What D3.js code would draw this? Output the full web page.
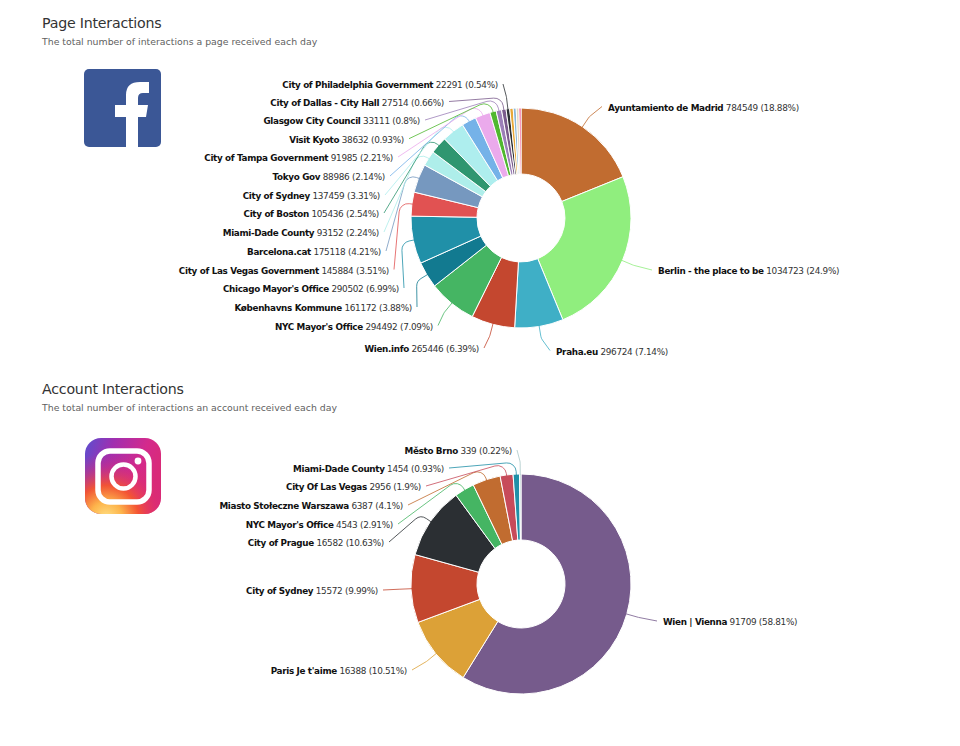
<!DOCTYPE html>
<html><head><meta charset="utf-8">
<script src="https://cdn.jsdelivr.net/npm/d3@7"></script>
<style>
html,body{margin:0;padding:0;background:#fff}
svg{display:block}
text{font-family:"DejaVu Sans",sans-serif}
.lbl{font-size:8.9px;fill:#333;letter-spacing:-0.3px}
.lbl .n{font-weight:bold;fill:#111;font-size:8.8px;letter-spacing:-0.33px}
.title{font-size:14.2px;fill:#333;letter-spacing:-0.22px}
.sub{font-size:9.35px;fill:#5f5f5f}
</style></head><body>
<svg id="c" width="960" height="746"></svg>
<script>
// ---- Page Interactions data
const pageNames = ["Ayuntamiento de Madrid","Berlin - the place to be","Praha.eu","Wien.info","NYC Mayor's Office","Københavns Kommune","Chicago Mayor's Office","City of Las Vegas Government","Barcelona.cat","Miami-Dade County","City of Boston","City of Sydney","Tokyo Gov","City of Tampa Government","Visit Kyoto","Glasgow City Council","City of Dallas - City Hall","City of Philadelphia Government","","","",""];
const pageValues = [784549,1034723,296724,265446,294492,161172,290502,145884,175118,93152,105436,137459,88986,91985,38632,33111,27514,22291,21000,18000,17000,12000];
const pagePercents = ["18.88","24.9","7.14","6.39","7.09","3.88","6.99","3.51","4.21","2.24","2.54","3.31","2.14","2.21","0.93","0.8","0.66","0.54","","","",""];
const pageColors = ["#c16c30","#90ee7e","#3fafc6","#c4472f","#45b563","#127a90","#2090a8","#e15252","#7698bf","#aeeeea","#2f9670","#aeeeee","#75b2e8","#ebaaec","#50b82f","#9c80b8","#7a5b8c","#2b2f33","#e8a838","#8ab8d8","#e8d8c0","#f0307a"];
// ---- Account Interactions data
const acctNames = ["Wien | Vienna","Paris Je t'aime","City of Sydney","City of Prague","NYC Mayor's Office","Miasto Stołeczne Warszawa","City Of Las Vegas","Miami-Dade County","Město Brno"];
const acctValues = [91709,16388,15572,16582,4543,6387,2956,1454,339];
const acctPercents = ["58.81","10.51","9.99","10.63","2.91","4.1","1.9","0.93","0.22"];
const acctColors = ["#765b8c","#dca137","#c4472f","#2b2f33","#45b563","#c16c30","#c74b5a","#2090a8","#aac8c8"];

// ---- Label layout (inner text edge of each label), separate from the data
const pageLabelX = [608,658,556,479,433,412,399,389,381,379,379,380,385,393,404,420,444,498];
const pageLabelY = [107.5,271,351.5,349,326.5,308,289,270.5,252,233,214,196,177,158,139.7,121,102.5,85];
const acctLabelX = [663,407,378,384,393,403,421,444,512];
const acctLabelY = [622,671,591,543,525,506,487,469,451];

const svg = d3.select("#c");

function heading(title, sub, yT, yS){
  svg.append("text").attr("class","title").attr("x",42).attr("y",yT).text(title);
  svg.append("text").attr("class","sub").attr("x",42).attr("y",yS).text(sub);
}
heading("Page Interactions","The total number of interactions a page received each day",28,45);
heading("Account Interactions","The total number of interactions an account received each day",394,411);

function donut(cx, cy, names, values, percents, colors, lx, ly){
  const R = 110, r = 44;
  const g = svg.append("g").attr("transform",`translate(${cx},${cy})`);
  const arcs = d3.pie().sort(null)(values);
  const arc = d3.arc().innerRadius(r).outerRadius(R);
  g.selectAll("path.s").data(arcs).join("path").attr("class","s")
    .attr("d",arc).attr("fill",(d,i)=>colors[i]).attr("stroke","#fff").attr("stroke-width",1);
  const pt = (a,rad)=>[Math.sin(a)*rad,-Math.cos(a)*rad];
  arcs.forEach((d,i)=>{
    if(!names[i]) return;
    const a = (d.startAngle+d.endAngle)/2, right = a < Math.PI;
    const s = pt(a,R-1), e = pt(a,R+12);
    const tx = lx[i]-cx, ty = ly[i]-cy;
    const end = [tx+(right?-6:5), ty-1];
    const p = d3.path();
    p.moveTo(s[0],s[1]);
    p.arcTo(e[0],e[1],end[0],end[1],9);
    p.lineTo(end[0],end[1]);
    g.append("path").attr("d",p.toString()).attr("fill","none").attr("stroke",colors[i]).attr("stroke-width",1).attr("stroke-opacity",0.8);
    const t = g.append("text").attr("class","lbl").attr("x",tx).attr("y",ty+3.2)
      .attr("text-anchor",right?"start":"end");
    t.append("tspan").attr("class","n").text(names[i]);
    t.append("tspan").text(` ${values[i]} (${percents[i]}%)`);
  });
}
donut(521,218,pageNames,pageValues,pagePercents,pageColors,pageLabelX,pageLabelY);
donut(521,584,acctNames,acctValues,acctPercents,acctColors,acctLabelX,acctLabelY);

// ---- Logos
const defs = svg.append("defs");
const lg = defs.append("linearGradient").attr("id","ig1").attr("x1",0).attr("y1",0).attr("x2",1).attr("y2",0.35);
[[0,"#5a4fd0"],[0.35,"#a02fb0"],[0.75,"#d42a8c"],[1,"#d92a78"]].forEach(s=>lg.append("stop").attr("offset",s[0]).attr("stop-color",s[1]));
const rg = defs.append("radialGradient").attr("id","ig2").attr("cx",0.28).attr("cy",1.05).attr("r",0.85);
[[0,"#ffe083",1],[0.25,"#fdb44b",1],[0.5,"#f5562f",0.95],[0.8,"#e0306a",0.35],[1,"#d62976",0]].forEach(s=>rg.append("stop").attr("offset",s[0]).attr("stop-color",s[1]).attr("stop-opacity",s[2]));
svg.append("rect").attr("x",84).attr("y",69).attr("width",77).attr("height",78).attr("rx",5).attr("fill","#3b5796");
svg.append("path").attr("fill","#fff").attr("d","M126,147V117H115V105H126V95Q126,82 140,82H149V93H143Q138,93 138,98V105H148L146,117H138V147Z");
const ig = svg.append("g");
ig.append("rect").attr("x",85).attr("y",438).attr("width",76).attr("height",76).attr("rx",16).attr("fill","url(#ig1)");
ig.append("rect").attr("x",85).attr("y",438).attr("width",76).attr("height",76).attr("rx",16).attr("fill","url(#ig2)");
ig.append("rect").attr("x",98).attr("y",451).attr("width",51).attr("height",51).attr("rx",12).attr("fill","none").attr("stroke","#fff").attr("stroke-width",5.5);
ig.append("circle").attr("cx",123.5).attr("cy",476.5).attr("r",12).attr("fill","none").attr("stroke","#fff").attr("stroke-width",4.5);
ig.append("circle").attr("cx",138).attr("cy",461).attr("r",3.4).attr("fill","#fff");
</script></body></html>
